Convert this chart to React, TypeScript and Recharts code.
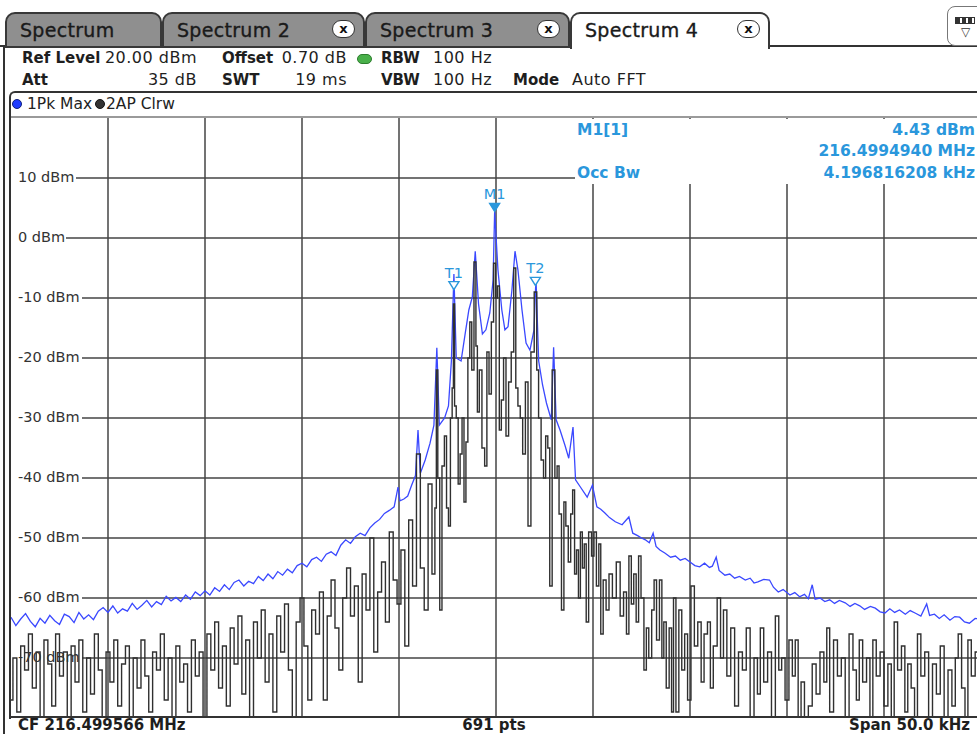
import React from 'react';
import { LineChart, Line, XAxis, YAxis, ReferenceLine, ReferenceDot } from 'recharts';

// Trace 1: 1Pk Max  [frequency offset kHz, level dBm]
const pkMaxTrace: [number, number][] = [
[-25,-63.2],[-24.75,-64.6],[-24.5,-63.5],[-24.25,-62.6],[-24,-63.9],[-23.75,-64.8],[-23.5,-63.4],[-23.25,-64.2],[-23,-62.9],[-22.75,-63.8],[-22.5,-64.4],[-22.25,-62.7],[-22,-63.1],[-21.75,-64.1],[-21.5,-62.4],[-21.25,-63.5],[-21,-62.8],[-20.75,-63.6],[-20.5,-62.2],[-20.25,-61.6],[-20,-62.4],[-19.75,-61.3],[-19.5,-62.5],[-19.25,-61.8],[-19,-62.2],[-18.75,-60.9],[-18.5,-61.9],[-18.25,-61.2],[-18,-60.4],[-17.75,-61.5],[-17.5,-60.6],[-17.25,-61.1],[-17,-59.7],[-16.75,-60.5],[-16.5,-59.9],[-16.25,-60.6],[-16,-59.5],[-15.75,-60.2],[-15.5,-59],[-15.25,-59.6],[-15,-58.8],[-14.75,-59.5],[-14.5,-58.3],[-14.25,-58.9],[-14,-57.8],[-13.75,-58.6],[-13.5,-57.4],[-13.25,-57],[-13,-58],[-12.75,-57.2],[-12.5,-57.6],[-12.25,-56.4],[-12,-57.1],[-11.75,-56],[-11.5,-56.8],[-11.25,-55.6],[-11,-56.2],[-10.75,-55.2],[-10.5,-55.8],[-10.25,-54.6],[-10,-54.2],
[-9.75,-54.8],[-9.5,-53.6],[-9.25,-53.2],[-9,-53.9],[-8.75,-52.7],[-8.5,-52.3],[-8.25,-52.9],[-8,-51.2],[-7.75,-50.3],[-7.5,-50.9],[-7.25,-49.8],[-7,-49.2],[-6.75,-49.6],[-6.5,-48.3],[-6.25,-47.5],[-6,-46.9],[-5.75,-45.9],[-5.5,-45.4],[-5.25,-44.8],[-5.05,-41.5],[-4.95,-43.8],[-4.75,-43.5],[-4.55,-43],[-4.35,-41.2],[-4.15,-39.6],[-4.02,-32],[-3.9,-39.2],[-3.65,-37],[-3.4,-34.2],[-3.2,-31.2],[-3.05,-18.3],[-2.92,-31.2],[-2.65,-30],[-2.45,-28],[-2.3,-20.5],[-2.17,-6],[-2.05,-20],[-1.8,-20.5],[-1.6,-16.2],[-1.4,-12],[-1.22,-9.8],[-1.07,-2.2],[-0.9,-11],[-0.7,-16],[-0.52,-15.3],[-0.32,-12.5],[-0.15,-7],[-0.07,4.43],[0.1,-5.3],[0.3,-12],[0.46,-15.3],[0.62,-14.8],[0.82,-8.7],[0.98,-2.2],[1.13,-5.3],[1.34,-12],[1.55,-17.5],[1.75,-18.7],[1.96,-15.3],[2.06,-6.7],[2.2,-20.5],[2.4,-24.5],[2.6,-27.5],[2.85,-30.3],[2.97,-18.2],[3.1,-30.3],[3.3,-32],[3.55,-34.5],[3.75,-36.7],[3.97,-31.5],[4.1,-40.3],[4.35,-41.5],[4.7,-43.2],[4.97,-41.2],[5.2,-44.8],[5.4,-45.2],[5.6,-45.8],[5.85,-46.6],[6.15,-47.3],[6.5,-47.8],[6.85,-46.5],[7.05,-49.2],[7.3,-49.6],[7.5,-50],[7.7,-50.3],[7.9,-50.8],[8.1,-49.2],[8.25,-51.4],[8.45,-52],[8.7,-52.5],[9,-53.2],[9.25,-53],[9.5,-53.7],[9.75,-53.4],[10,-54],[10.25,-54.6],[10.5,-54.8],[10.75,-54.2],[11,-54.9],[11.15,-54.7],[11.35,-53.2],[11.5,-55.4],[11.8,-56.2],[12.05,-56],[12.3,-56.7],[12.55,-56.4],[12.85,-57],[13.1,-56.7],[13.3,-57.5],[13.5,-57.3],[13.8,-56.9],[14.1,-57],[14.3,-58.2],[14.55,-59],[14.8,-58.6],[15.15,-59.5],[15.4,-59.1],[15.65,-59.8],[15.9,-59.4],[16.1,-60.1],[16.3,-57.8],[16.45,-60.2],[16.7,-60],[16.95,-60.6],[17.2,-60.3],[17.45,-60.9],[17.7,-60.4],[18,-60.8],[18.25,-61.4],[18.5,-60.9],[18.75,-61.3],[19,-61.9],[19.3,-61.4],[19.55,-61.7],[19.8,-62.3],[20.05,-62.5],[20.3,-61.8],[20.55,-62.4],[20.8,-62],[21.1,-62.7],[21.35,-62.1],[21.6,-62.5],[21.9,-63],[22.2,-61],[22.35,-62.9],[22.6,-62.7],[22.85,-63.4],[23.1,-62.8],[23.4,-63.7],[23.65,-63.1],[23.9,-63.2],[24.15,-64],[24.4,-64.2],[24.7,-63.4],[25,-63.5]
];

// Trace 2: AP Clrw  [frequency offset kHz, level dBm]
const clrwTrace: [number, number][] = [
[-25,-77],[-24.8,-70],[-24.6,-79],[-24.4,-68],[-24.2,-72],[-24,-66],[-23.8,-75],[-23.6,-69],[-23.4,-80],[-23.2,-67],[-23,-71],[-22.8,-78],[-22.6,-66],[-22.4,-73],[-22.2,-69],[-22,-80],[-21.8,-68],[-21.6,-74],[-21.4,-67],[-21.2,-79],[-21,-70],[-20.8,-76],[-20.6,-66],[-20.4,-72],[-20.2,-80],[-20,-69],[-19.8,-74],[-19.6,-67],[-19.4,-78],[-19.2,-71],[-19,-68],[-18.8,-80],[-18.6,-70],[-18.4,-75],[-18.2,-67],[-18,-73],[-17.8,-79],[-17.6,-69],[-17.4,-72],[-17.2,-66],[-17,-77],[-16.8,-70],[-16.6,-80],[-16.4,-68],[-16.2,-74],[-16,-71],[-15.8,-79],[-15.6,-67],[-15.4,-73],[-15.2,-69],[-15,-80],[-14.8,-66],[-14.6,-72],[-14.4,-64],[-14.2,-75],[-14,-68],[-13.8,-78],[-13.6,-65],[-13.4,-71],[-13.2,-63],[-13,-76],[-12.8,-67],[-12.6,-80],[-12.4,-64],[-12.2,-70],[-12,-62],[-11.8,-74],[-11.6,-66],[-11.4,-79],[-11.2,-63],[-11,-69],[-10.8,-61],[-10.6,-72],[-10.4,-80],[-10.2,-64],
[-10,-60],[-9.8,-68],[-9.6,-77],[-9.4,-62],[-9.2,-66],[-9,-59],[-8.8,-77],[-8.6,-63],[-8.4,-57],[-8.2,-65],[-8,-72],[-7.8,-60],[-7.6,-55],[-7.4,-63],[-7.2,-58],[-7,-74],[-6.8,-56],[-6.6,-62],[-6.4,-50],[-6.2,-69],[-6,-59],[-5.8,-54],[-5.6,-64],[-5.4,-49],[-5.2,-57],[-5,-61],[-4.8,-52],[-4.6,-68],[-4.4,-47],[-4.2,-58],[-4,-36],[-3.8,-55],[-3.6,-62],[-3.4,-41],
[-3.2,-56],[-3.1,-45],[-3.05,-22],[-2.95,-40],[-2.85,-62],[-2.72,-38],[-2.6,-33],[-2.5,-45],[-2.4,-48],[-2.3,-30],[-2.22,-25],[-2.17,-11],[-2.1,-28],[-2,-30],[-1.9,-41],[-1.8,-36],[-1.7,-30],[-1.6,-44],[-1.5,-34],[-1.4,-20],[-1.3,-14],[-1.2,-22],[-1.07,-4],[-1,-18],[-0.92,-29],[-0.8,-22],[-0.65,-35],[-0.52,-38],[-0.42,-19],[-0.3,-26],[-0.18,-14],[-0.07,-4.2],[0.02,-10],[0.12,-8],[0.22,-32],[0.33,-27],[0.45,-20],[0.58,-33],[0.72,-24],[0.85,-19],[0.98,-5],[1.06,-25],[1.2,-28],[1.3,-30],[1.45,-36],[1.58,-24],[1.72,-48],[1.88,-19],[2.06,-9],[2.14,-22],[2.25,-30],[2.4,-37],[2.5,-40],[2.62,-33],[2.72,-35],[2.82,-58],[2.97,-22],
[3.1,-40],[3.2,-38],[3.3,-46],[3.45,-62],[3.55,-44],[3.65,-48],[3.8,-54],[3.9,-46],[4,-42],[4.1,-56],[4.2,-52],[4.3,-60],[4.4,-49],[4.5,-55],[4.6,-51],[4.7,-64],[4.85,-49],[5,-53],[5.1,-49],[5.25,-58],[5.35,-51],[5.45,-66],[5.6,-57],[5.75,-62],[5.9,-56],[6.1,-60],[6.3,-54],[6.5,-63],[6.65,-59],[6.8,-66],[6.9,-53],[7.05,-61],[7.15,-56],[7.3,-64],[7.4,-53],[7.55,-60],[7.7,-72],[7.8,-65],[7.95,-70],[8.1,-62],[8.2,-57],[8.35,-67],[8.5,-57],[8.6,-70],[8.7,-64],[8.85,-75],[9,-65],[9.1,-79],[9.2,-60],[9.35,-79],[9.5,-62],[9.65,-72],[9.8,-66],[9.95,-77],[10.15,-58],[10.3,-68],[10.5,-64],[10.65,-74],[10.8,-66],[11,-64],[11.1,-75],[11.3,-68],[11.5,-60],[11.65,-70],[11.8,-62],[12,-73],[12.2,-65],[12.4,-78],[12.6,-69],[12.8,-72],[13,-65],[13.2,-80],[13.4,-70],[13.55,-76],[13.7,-65],[13.9,-74],[14.1,-69],[14.3,-80],[14.5,-63],[14.65,-72],[14.8,-70],[15,-77],[15.2,-67],[15.35,-73],[15.5,-67],[15.65,-80],[15.8,-74],[16,-80],[16.2,-78],[16.4,-71],[16.6,-76],[16.8,-69],[17,-74],[17.1,-65],[17.3,-79],[17.5,-67],[17.7,-73],[17.9,-70],[18.1,-80],[18.3,-66],[18.5,-72],[18.65,-77],[18.8,-67],[19,-74],[19.2,-70],[19.35,-80],[19.5,-67],[19.7,-73],[19.9,-69],[20.1,-78],[20.3,-71],[20.45,-80],[20.6,-64],[20.8,-72],[21,-68],[21.15,-79],[21.3,-71],[21.5,-75],[21.65,-80],[21.8,-66],[22,-73],[22.2,-69],[22.4,-80],[22.6,-71],[22.8,-76],[23,-68],[23.2,-80],[23.4,-72],[23.6,-78],[23.75,-70],[23.9,-66],[24.1,-75],[24.25,-80],[24.4,-67],[24.6,-73],[24.8,-69],[25,-74]
];

const freqGridTicks = [-20, -15, -10, -5, 0, 5, 10, 15, 20];
const levelTicks = [10, 0, -10, -20, -30, -40, -50, -60, -70];
const levelLabels = ['10 dBm', '0 dBm', '-10 dBm', '-20 dBm', '-30 dBm', '-40 dBm', '-50 dBm', '-60 dBm', '-70 dBm'];

const markers = [
  { name: 'M1', f: -0.07, level: 4.43, filled: true },
  { name: 'T1', f: -2.17, level: -8.6, filled: false },
  { name: 'T2', f: 2.03, level: -7.9, filled: false },
];

const tabs = [
  { label: 'Spectrum', left: 5, width: 157, closable: false, active: false },
  { label: 'Spectrum 2', left: 162, width: 203, closable: true, active: false },
  { label: 'Spectrum 3', left: 365, width: 205, closable: true, active: false },
  { label: 'Spectrum 4', left: 570, width: 200, closable: true, active: true },
];

const FONT = '"DejaVu Sans", Verdana, sans-serif';
const PLOT_LEFT = 11;
const PLOT_TOP = 118;
const PLOT_W = 970;
const PLOT_H = 600;
const F_MIN = -25;
const F_MAX = 25;
const L_MIN = -80;
const L_MAX = 20;
const MARK_BLUE = '#2a97dc';
const GRID = '#454545';

const levelY = (lvl: number) => PLOT_TOP + ((L_MAX - lvl) / (L_MAX - L_MIN)) * PLOT_H;
// label width in px -> grid start frequency
const labelGapPx = (label: string) => (label.startsWith('-') ? 71 : label.length === 5 ? 55 : 65);
const pxToKHz = (px: number) => F_MIN + (px / PLOT_W) * (F_MAX - F_MIN);

function MarkerGlyph({ cx, cy, name, filled }: { cx: number; cy: number; name: string; filled: boolean }) {
  const w = 5;
  const h = 8;
  return (
    <g>
      <polygon
        points={`${cx - w},${cy - h} ${cx + w},${cy - h} ${cx},${cy}`}
        fill={filled ? MARK_BLUE : '#ffffff'}
        stroke={MARK_BLUE}
        strokeWidth={1.4}
      />
      <text x={cx} y={cy - 12} textAnchor="middle" fontSize={14.5} fontFamily={FONT} fill={MARK_BLUE}>
        {name}
      </text>
    </g>
  );
}

function Abs({ x, y, children, style }: { x: number; y: number; children?: React.ReactNode; style?: React.CSSProperties }) {
  return (
    <div style={{ position: 'absolute', left: x, top: y, whiteSpace: 'nowrap', lineHeight: '18px', ...style }}>{children}</div>
  );
}

function RightText({ right, y, children, style }: { right: number; y: number; children?: React.ReactNode; style?: React.CSSProperties }) {
  return (
    <div style={{ position: 'absolute', left: right - 200, width: 200, top: y, textAlign: 'right', whiteSpace: 'nowrap', lineHeight: '18px', ...style }}>
      {children}
    </div>
  );
}

export default function App() {
  const maxData = pkMaxTrace.map(([f, v]) => ({ f, v }));
  const clrwData = clrwTrace.map(([f, v]) => ({ f, v }));

  const hdr: React.CSSProperties = { fontSize: 16, letterSpacing: 0.5, color: '#1e1e1e' };
  const hdrB: React.CSSProperties = { fontSize: 15, color: '#1e1e1e', fontWeight: 'bold' };
  const blueB: React.CSSProperties = { fontSize: 15.5, fontWeight: 'bold', color: MARK_BLUE };
  const foot: React.CSSProperties = { fontSize: 15, fontWeight: 'bold', color: '#1e1e1e', lineHeight: '15px' };

  return (
    <div
      style={{
        position: 'fixed', left: 0, top: 0, width: 977, height: 734, overflow: 'hidden',
        background: '#ffffff', fontFamily: FONT, color: '#222',
      }}
    >
      {/* tab bar bottom line */}
      <div style={{ position: 'absolute', left: 0, top: 45, width: 977, height: 2, background: '#333' }} />
      {tabs.map((t) => (
        <div
          key={t.label}
          style={{
            position: 'absolute', left: t.left, top: 12, width: t.width - 4, height: t.active ? 35 : 32,
            background: t.active ? '#ffffff' : '#8f8f8f',
            border: '2px solid #383838', borderBottom: t.active ? 'none' : '2px solid #383838',
            borderRadius: '10px 10px 0 0',
          }}
        >
          <div
            style={{
              position: 'absolute', left: 13, top: 5, fontSize: 19, letterSpacing: 0.3, color: '#1a1a1a',
              whiteSpace: 'nowrap', lineHeight: '22px', WebkitTextStroke: '0.35px #1a1a1a',
            }}
          >
            {t.label}
          </div>
          {t.closable && (
            <div
              style={{
                position: 'absolute', left: t.width - 35, top: 6, width: 21, height: 16,
                border: '1.5px solid #333', borderRadius: 9, background: '#fff',
                fontSize: 13, fontWeight: 'bold', lineHeight: '15px', textAlign: 'center', color: '#111',
              }}
            >
              x
            </div>
          )}
        </div>
      ))}
      {/* top-right icon */}
      <div
        style={{
          position: 'absolute', left: 947, top: 6, width: 40, height: 38, border: '1.5px solid #777',
          borderRadius: 8, background: '#fff',
        }}
      >
        <div style={{ position: 'absolute', left: 7, top: 10, width: 18, height: 5, border: '1.5px solid #333', background: 'repeating-linear-gradient(90deg,#333 0 4px,#fff 4px 6px)' }} />
        <div style={{ position: 'absolute', left: 13, top: 18, fontSize: 12, color: '#333', lineHeight: '14px' }}>▽</div>
      </div>

      {/* outer frame */}
      <div style={{ position: 'absolute', left: 3, top: 46, width: 2, height: 700, background: '#333' }} />

      {/* header */}
      <Abs x={22} y={49} style={hdrB}>Ref Level</Abs>
      <RightText right={197} y={49} style={hdr}>20.00 dBm</RightText>
      <Abs x={222} y={49} style={hdrB}>Offset</Abs>
      <RightText right={347} y={49} style={hdr}>0.70 dB</RightText>
      <div style={{ position: 'absolute', left: 357, top: 54, width: 13, height: 8, borderRadius: 5, background: '#49b04a', border: '1px solid #2d7d2e' }} />
      <Abs x={381} y={49} style={hdrB}>RBW</Abs>
      <Abs x={433} y={49} style={hdr}>100 Hz</Abs>
      <Abs x={22} y={71} style={hdrB}>Att</Abs>
      <RightText right={197} y={71} style={hdr}>35 dB</RightText>
      <Abs x={222} y={71} style={hdrB}>SWT</Abs>
      <RightText right={347} y={71} style={hdr}>19 ms</RightText>
      <Abs x={381} y={71} style={hdrB}>VBW</Abs>
      <Abs x={433} y={71} style={hdr}>100 Hz</Abs>
      <Abs x={513} y={71} style={hdrB}>Mode</Abs>
      <Abs x={572} y={71} style={hdr}>Auto FFT</Abs>

      {/* inner frame: top line + left line */}
      <div
        style={{
          position: 'absolute', left: 9, top: 91, width: 990, height: 626,
          borderLeft: '2px solid #333', borderTop: '2px solid #333', borderTopLeftRadius: 6,
        }}
      />
      {/* legend */}
      <div style={{ position: 'absolute', left: 12, top: 99, width: 8, height: 8, borderRadius: 5, background: '#1f3cff', border: '1px solid #10207a' }} />
      <Abs x={27} y={95} style={{ fontSize: 15.5, color: '#222' }}>1Pk Max</Abs>
      <div style={{ position: 'absolute', left: 95, top: 99, width: 8, height: 8, borderRadius: 5, background: '#333', border: '1px solid #111' }} />
      <Abs x={106} y={95} style={{ fontSize: 15.5, color: '#222' }}>2AP Clrw</Abs>
      <div style={{ position: 'absolute', left: 11, top: 116, width: 977, height: 1.5, background: '#9a9a9a' }} />

      {/* level labels (below traces) */}
      {levelTicks.map((lvl, i) => (
        <Abs key={lvl} x={18} y={levelY(lvl) - 10} style={{ fontSize: 14.5, color: '#333' }}>
          {levelLabels[i]}
        </Abs>
      ))}

      {/* chart */}
      <div style={{ position: 'absolute', left: PLOT_LEFT, top: PLOT_TOP }}>
        <LineChart width={PLOT_W} height={PLOT_H} margin={{ top: 0, right: 0, bottom: 0, left: 0 }}>
          <XAxis type="number" dataKey="f" domain={[F_MIN, F_MAX]} allowDataOverflow hide />
          <YAxis type="number" domain={[L_MIN, L_MAX]} allowDataOverflow hide />
          {freqGridTicks.map((f) => (
            <ReferenceLine key={'v' + f} x={f} stroke={GRID} strokeWidth={1.5} />
          ))}
          {levelTicks.map((lvl, i) => (
            <ReferenceLine
              key={'h' + lvl}
              segment={[{ x: pxToKHz(labelGapPx(levelLabels[i])), y: lvl }, { x: F_MAX, y: lvl }]}
              stroke={GRID}
              strokeWidth={1.5}
            />
          ))}
          <Line
            data={maxData}
            dataKey="v"
            type="linear"
            stroke="#3a48ff"
            strokeWidth={1.3}
            dot={false}
            activeDot={false}
            isAnimationActive={false}
          />
          <Line
            data={clrwData}
            dataKey="v"
            type="step"
            stroke="#303030"
            strokeWidth={1.4}
            dot={false}
            activeDot={false}
            isAnimationActive={false}
          />
          {markers.map((m) => (
            <ReferenceDot
              key={m.name}
              x={m.f}
              y={m.level}
              r={5}
              shape={(p: any) => <MarkerGlyph cx={p.cx} cy={p.cy} name={m.name} filled={m.filled} />}
            />
          ))}
        </LineChart>
      </div>

      {/* marker info box */}
      <div style={{ position: 'absolute', left: 575, top: 119, width: 420, height: 65, background: '#fff' }} />
      <Abs x={577} y={121} style={blueB}>M1[1]</Abs>
      <RightText right={975} y={121} style={blueB}>4.43 dBm</RightText>
      <RightText right={975} y={142} style={blueB}>216.4994940 MHz</RightText>
      <Abs x={577} y={164} style={blueB}>Occ Bw</Abs>
      <RightText right={975} y={164} style={blueB}>4.196816208 kHz</RightText>

      {/* bottom border + footer */}
      <div style={{ position: 'absolute', left: 9, top: 716, width: 977, height: 2, background: '#333' }} />
      <Abs x={18} y={718} style={foot}>CF 216.499566 MHz</Abs>
      <Abs x={394} y={718} style={{ ...foot, width: 200, textAlign: 'center' }}>691 pts</Abs>
      <RightText right={970} y={718} style={foot}>Span 50.0 kHz</RightText>
    </div>
  );
}
